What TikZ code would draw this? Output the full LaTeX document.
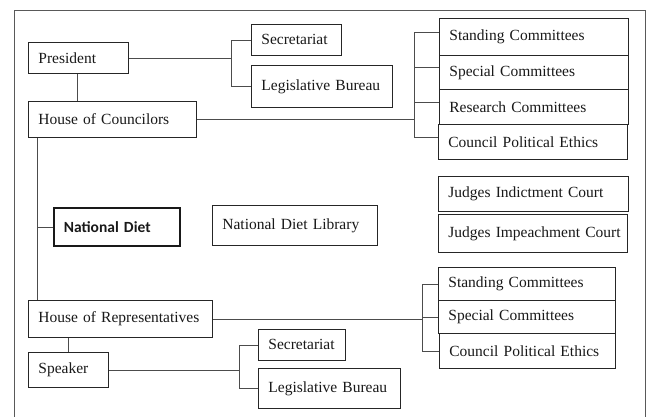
\documentclass[tikz,border=0pt]{standalone}
\usepackage{fontspec}
\setmainfont[WordSpace=0.6]{Liberation Serif}
\newfontfamily\ndfont{Carlito}
\begin{document}
\begin{tikzpicture}[x=1pt,y=-1pt,
  line/.style={draw=black!70, line width=0.8pt},
  box/.style={draw=black!85, line width=0.8pt, anchor=north west, inner xsep=10pt, inner ysep=0pt,
     align=left, font=\fontsize{15.5}{18}\selectfont, text=black!90},
  thickbox/.style={box, line width=1.8pt, draw=black!90, font=\ndfont\bfseries\fontsize{15.5}{18}\selectfont}]
\clip (0,0) rectangle (648,416);
\fill[white] (0,0) rectangle (648,416);
% frame
\draw[draw=black!65, line width=0.9pt] (14,10) rectangle (645,440);
% boxes
\node[box, minimum height=31pt, text width=80pt] (pres) at (28,42) {President};
\node[box, minimum height=36pt, text width=148pt] (hoc) at (28,101) {House of Councilors};
\node[box, minimum height=31pt, text width=70pt] (sec1) at (251,24) {Secretariat};
\node[box, minimum height=42pt, text width=121pt] (lb1) at (251,65) {Legislative Bureau};
\node[box, minimum height=37pt, text width=169pt] (sc1) at (439,18) {Standing Committees};
\node[box, minimum height=34pt, text width=169pt] (sp1) at (439,55) {Special Committees};
\node[box, minimum height=35pt, text width=169pt] (rc1) at (439,89) {Research Committees};
\node[box, minimum height=35pt, text width=169pt] (cpe1) at (438,124) {Council Political Ethics};
\node[box, minimum height=35pt, text width=170pt] (jic) at (438,176) {Judges Indictment Court};
\node[box, minimum height=38pt, text width=169pt] (jimp) at (438,214) {\mbox{Judges Impeachment Court}};
\node[thickbox, minimum height=38pt, text width=106pt] (nd) at (53,207) {National Diet};
\node[box, minimum height=40pt, text width=145pt] (ndl) at (212,205) {National Diet Library};
\node[box, minimum height=37pt, text width=164pt] (hor) at (28,300) {House of Representatives};
\node[box, minimum height=33pt, text width=157pt] (sc2) at (438,267) {Standing Committees};
\node[box, minimum height=33pt, text width=157pt] (sp2) at (438,300) {Special Committees};
\node[box, minimum height=35pt, text width=156pt] (cpe2) at (439,333) {Council Political Ethics};
\node[box, minimum height=35pt, text width=60pt] (spk) at (28,352) {Speaker};
\node[box, minimum height=31pt, text width=67pt] (sec2) at (258,329) {Secretariat};
\node[box, minimum height=40pt, text width=122pt] (lb2) at (258,368) {Legislative Bureau};
% spine coordinates
\coordinate (b1) at (231,0);
\coordinate (b2) at (414,0);
\coordinate (b3) at (422,0);
\coordinate (b4) at (239,0);
\coordinate (lx) at (37,0);
\coordinate (px) at (77,0);
\coordinate (sx) at (68,0);
\coordinate (t1) at ([yshift=5pt]sc1.west);
\coordinate (t2) at ([yshift=5pt]sp1.west);
\coordinate (t3) at ([yshift=5pt]rc1.west);
\coordinate (t4) at ([yshift=5pt]cpe1.west);
% connectors
\draw[line] (px |- pres.south) -- (px |- hoc.north);
\draw[line] (pres.east) -- (b1 |- pres.east);
\draw[line] (sec1.west) -| (b1 |- lb1.west) -- (lb1.west);
\draw[line] (hoc.east) -- (b2 |- hoc.east);
\draw[line] (t1) -| (b2 |- t4) -- (t4);
\draw[line] (t2) -- (b2 |- t2);
\draw[line] (t3) -- (b2 |- t3);
\draw[line] (lx |- hoc.south) -- (lx |- hor.north);
\draw[line] (lx |- nd.west) -- (nd.west);
\draw[line] (hor.east) -- (b3 |- hor.east);
\draw[line] (sc2.west) -| (b3 |- cpe2.west) -- (cpe2.west);
\draw[line] (sp2.west) -- (b3 |- sp2.west);
\draw[line] (sx |- hor.south) -- (sx |- spk.north);
\draw[line] (spk.east) -- (b4 |- spk.east);
\draw[line] (sec2.west) -| (b4 |- lb2.west) -- (lb2.west);
\end{tikzpicture}
\end{document}
